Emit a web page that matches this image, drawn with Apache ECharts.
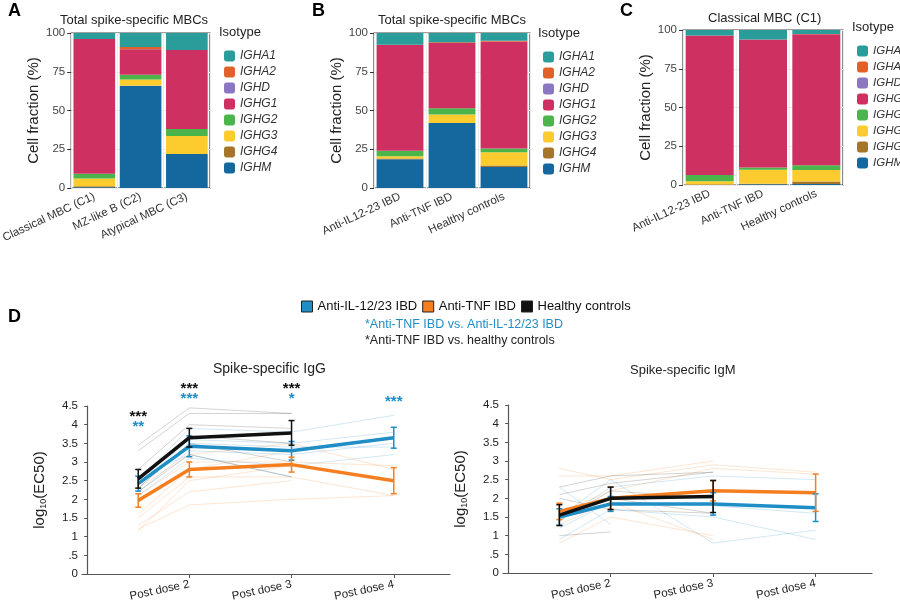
<!DOCTYPE html>
<html>
<head>
<meta charset="utf-8">
<script src="https://cdn.jsdelivr.net/npm/echarts@6/dist/echarts.min.js"></script>
<style>html,body{margin:0;padding:0;background:#fff}#main{width:900px;height:610px}</style>
</head>
<body>
<div id="main"></div>
<script>
// stacked bar panels, bottom -> top
const isotypes = ['IGHM', 'IGHG4', 'IGHG3', 'IGHG2', 'IGHG1', 'IGHD', 'IGHA2', 'IGHA1'];
const isoColors = ['#14689e', '#a5752a', '#fccb2e', '#4bb44a', '#cf3062', '#8b77c1', '#e0622a', '#2a9d9a'];
const catsA = ['Classical MBC (C1)', 'MZ-like B (C2)', 'Atypical MBC (C3)'];
const catsBC = ['Anti-IL12-23 IBD', 'Anti-TNF IBD', 'Healthy controls'];
// per isotype, values per category
const valsA = [[0.5, 66, 22], [0.7, 0, 0], [5, 4, 11.5], [3, 3, 4.5], [87, 16.5, 51], [0, 0, 0], [0, 1.5, 0], [3.8, 9, 11]];
const valsB = [[18.5, 42, 13.5], [0.5, 0, 1], [1.5, 5.5, 8.5], [3.5, 4, 2.5], [68.5, 42, 69], [0, 0, 0], [0, 0.5, 0.5], [7.5, 6, 5]];
const valsC = [[0, 0.5, 0.7], [0.3, 0.3, 1.5], [2.2, 9, 7.5], [4, 1.5, 3], [90, 82.5, 84.5], [0, 0, 0], [0, 0, 0.3], [3.5, 6.2, 2.5]];

// panel D
const groups = ['Anti-IL-12/23 IBD', 'Anti-TNF IBD', 'Healthy controls'];
const groupColors = ['#1f8ec6', '#f57f20', '#111111'];
const doseX = [1, 2, 4, 6];
const doseLabels = ['Post dose 1', 'Post dose 2', 'Post dose 3', 'Post dose 4'];
const iggMean = [[2.42, 3.42, 3.3, 3.65], [1.97, 2.8, 2.93, 2.5], [2.55, 3.65, 3.78, null]];
const iggErr = [[0.2, 0.28, 0.25, 0.28], [0.18, 0.2, 0.2, 0.35], [0.25, 0.25, 0.33, null]];
const igmMean = [[1.5, 1.85, 1.85, 1.75], [1.65, 2.0, 2.2, 2.15], [1.55, 2.0, 2.05, null]];
const igmErr = [[0.22, 0.2, 0.3, 0.37], [0.22, 0.3, 0.27, 0.5], [0.28, 0.3, 0.43, null]];
const iggInd = [
  [[2.5, 3.9, 3.8, 4.25], [2.4, 3.6, 3.5, 3.8], [2.2, 3.3, 3.2, 3.5], [2.1, 3.1, 2.9, 3.2], [2.6, 3.2, 2.6, null], [2.3, 3.5, 3.4, 3.4]],
  [[2.3, 3.2, 3.5, 2.8], [2.1, 3.0, 3.0, 2.9], [1.5, 2.6, 2.6, 2.1], [1.3, 2.2, 2.5, null], [1.2, 1.85, 2.0, 2.1], [1.15, 2.5, 2.9, null], [1.6, 2.8, 3.3, null]],
  [[3.45, 4.45, 4.3, null], [3.3, 4.3, 4.3, null], [2.8, 4.0, 3.9, null], [2.6, 3.7, 3.5, null], [2.3, 3.5, 3.0, null], [2.2, 3.2, 2.6, null]]
];
const igmInd = [
  [[2.3, 1.3, null, null], [1.2, 1.9, 1.8, 1.6], [1.5, 2.5, 0.8, 1.15], [1.4, 2.3, 2.6, 2.5], [0.9, 1.7, 1.5, 0.9]],
  [[2.8, 2.5, 2.9, 2.7], [2.6, 2.6, 3.0, null], [0.8, 1.5, 1.0, null], [1.6, 2.2, 2.8, 2.65], [1.3, 1.9, 0.9, null]],
  [[2.3, 2.6, 2.7, null], [2.1, 2.4, 2.7, null], [1.5, 2.0, 1.6, null], [1.0, 1.1, null, null], [1.4, 2.2, 2.0, null], [2.0, 1.7, 1.6, null]]
];
// significance stars: [x, y, text, colorIndex]
const iggStars = [[1, 4.2, '***', 2], [1, 3.95, '**', 0], [2, 4.95, '***', 2], [2, 4.7, '***', 0], [4, 4.95, '***', 2], [4, 4.68, '*', 0], [6, 4.6, '***', 0]];

const FONT = 'Liberation Sans';
const chart = echarts.init(document.getElementById('main'));

const barGrids = [
  { left: 60, top: 33, width: 150, height: 155 },
  { left: 374, top: 33, width: 156, height: 155 },
  { left: 683, top: 30, width: 160, height: 155 }
];
const grid = barGrids.map(g => Object.assign({ show: true, borderColor: '#444', borderWidth: 1.2, backgroundColor: '#fff' }, g));
grid.push({ left: 82, right: 450, top: 406, bottom: 36 });
grid.push({ left: 503, right: 28, top: 405, bottom: 37 });

const xAxis = [], yAxis = [];
[catsA, catsBC, catsBC].forEach((cats, i) => {
  xAxis.push({
    type: 'category', gridIndex: i, data: cats,
    axisLine: { show: false }, axisTick: { alignWithLabel: true, length: 4, lineStyle: { color: '#333' } },
    axisLabel: { rotate: 25, fontFamily: FONT, fontSize: 11.5, color: '#333', margin: 8 },
    splitLine: { show: true, lineStyle: { color: '#ececec' } }
  });
  yAxis.push({
    type: 'value', gridIndex: i, min: 0, max: 100, interval: 25,
    axisLine: { show: false }, axisTick: { show: true, length: 4, lineStyle: { color: '#333' } },
    axisLabel: { fontFamily: FONT, fontSize: 11.5, color: '#444', margin: 6 },
    splitLine: { lineStyle: { color: '#ececec' } },
    name: 'Cell fraction (%)', nameLocation: 'middle', nameGap: 30,
    nameTextStyle: { fontFamily: FONT, fontSize: 15, color: '#222' }
  });
});
[3, 4].forEach(g => {
  xAxis.push({
    type: 'value', gridIndex: g, min: -0.1, max: 7.1,
    axisLine: { lineStyle: { color: '#555', width: 1.2 } },
    axisTick: { customValues: doseX, length: 4, lineStyle: { color: '#555' } },
    axisLabel: {
      customValues: doseX, rotate: 12, fontFamily: FONT, fontSize: 11.5, color: '#222', margin: 10,
      formatter: v => doseLabels[doseX.indexOf(v)] || ''
    },
    splitLine: { show: false }
  });
  yAxis.push({
    type: 'value', gridIndex: g, min: 0, max: 4.5, interval: 0.5,
    axisLine: { show: true, lineStyle: { color: '#555', width: 1.2 } },
    axisTick: { show: true, length: 3, lineStyle: { color: '#555' } },
    axisLabel: { fontFamily: FONT, fontSize: 11.5, color: '#222', margin: 4, formatter: v => v === 0.5 ? '.5' : String(v) },
    splitLine: { show: false },
    name: '{a|log}{s|10}{a|(EC50)}', nameLocation: 'middle', nameGap: 34,
    nameTextStyle: { rich: { a: { fontFamily: FONT, fontSize: 15, color: '#222' }, s: { fontFamily: FONT, fontSize: 9, color: '#222', verticalAlign: 'bottom', padding: [8, 0, 0, 0] } } }
  });
});

const series = [];
[valsA, valsB, valsC].forEach((vals, gi) => {
  isotypes.forEach((iso, k) => {
    series.push({
      type: 'bar', name: iso, xAxisIndex: gi, yAxisIndex: gi, stack: 'p' + gi,
      data: vals[k], barCategoryGap: '10%', itemStyle: { color: isoColors[k] }
    });
  });
});

function errBar(axis, means, errs, color) {
  const data = [];
  means.forEach((m, i) => { if (m != null) data.push([doseX[i], m - errs[i], m + errs[i]]); });
  return {
    type: 'custom', xAxisIndex: axis, yAxisIndex: axis, z: 4, data: data, silent: true,
    renderItem: (params, api) => {
      const lo = api.coord([api.value(0), api.value(1)]);
      const hi = api.coord([api.value(0), api.value(2)]);
      const st = { stroke: color, lineWidth: 1.5 };
      return { type: 'group', children: [
        { type: 'line', shape: { x1: lo[0], y1: lo[1], x2: hi[0], y2: hi[1] }, style: st },
        { type: 'line', shape: { x1: lo[0] - 3, y1: lo[1], x2: lo[0] + 3, y2: lo[1] }, style: st },
        { type: 'line', shape: { x1: hi[0] - 3, y1: hi[1], x2: hi[0] + 3, y2: hi[1] }, style: st }
      ] };
    }
  };
}
[[3, iggMean, iggErr, iggInd], [4, igmMean, igmErr, igmInd]].forEach(([ax, means, errs, inds]) => {
  groups.forEach((g, gi) => {
    inds[gi].forEach(row => {
      series.push({
        type: 'line', xAxisIndex: ax, yAxisIndex: ax, silent: true, symbol: 'none', z: 1,
        data: row.map((v, i) => [doseX[i], v]).filter(p => p[1] != null),
        lineStyle: { color: groupColors[gi], width: 1, opacity: gi === 2 ? 0.18 : 0.2 }
      });
    });
  });
  groups.forEach((g, gi) => {
    series.push({
      type: 'line', name: g, xAxisIndex: ax, yAxisIndex: ax, symbol: 'none', z: 3 + (gi === 2 ? 1 : 0),
      data: means[gi].map((v, i) => [doseX[i], v]).filter(p => p[1] != null),
      lineStyle: { color: groupColors[gi], width: 3.5 }, itemStyle: { color: groupColors[gi] }
    });
    series.push(errBar(ax, means[gi], errs[gi], groupColors[gi]));
  });
});
series.push({
  type: 'custom', xAxisIndex: 3, yAxisIndex: 3, clip: false, z: 5, data: iggStars, silent: true,
  renderItem: (params, api) => {
    const p = api.coord([api.value(0), api.value(1)]);
    const s = iggStars[params.dataIndex];
    return { type: 'text', x: p[0], y: p[1], style: { text: s[2], fill: s[3] === 0 ? '#1f8ec6' : '#111', font: 'bold 15px ' + FONT, align: 'center', verticalAlign: 'middle' } };
  }
});

const legendBase = {
  data: isotypes.slice().reverse(), orient: 'vertical', itemWidth: 11, itemHeight: 11, itemGap: 4,
  textStyle: { fontFamily: FONT, fontSize: 12, fontStyle: 'italic', color: '#333' }, selectedMode: false
};
const legend = [
  Object.assign({ left: 219, top: 45 }, legendBase),
  Object.assign({ left: 538, top: 46 }, legendBase),
  Object.assign({ left: 852, top: 40 }, legendBase, { textStyle: Object.assign({}, legendBase.textStyle, { fontSize: 11.5 }) }),
  {
    data: groups, left: 296, top: 295, itemWidth: 11, itemHeight: 11, itemGap: 5, selectedMode: false, icon: 'rect',
    itemStyle: { borderColor: '#222', borderWidth: 1 },
    textStyle: { fontFamily: FONT, fontSize: 13, color: '#111' }
  }
];

const txt = (x, y, t, size, extra) => ({ type: 'text', left: x, top: y, style: Object.assign({ text: t, font: size + 'px ' + FONT, fill: '#222' }, extra || {}) });
const graphic = [
  txt(8, 2, 'A', 18, { font: 'bold 18px ' + FONT, fill: '#000' }),
  txt(312, 2, 'B', 18, { font: 'bold 18px ' + FONT, fill: '#000' }),
  txt(620, 2, 'C', 18, { font: 'bold 18px ' + FONT, fill: '#000' }),
  txt(8, 308, 'D', 18, { font: 'bold 18px ' + FONT, fill: '#000' }),
  txt(60, 14, 'Total spike-specific MBCs', 13),
  txt(378, 14, 'Total spike-specific MBCs', 13),
  txt(708, 12, 'Classical MBC (C1)', 13),
  txt(219, 26, 'Isotype', 13),
  txt(538, 27, 'Isotype', 13),
  txt(852, 21, 'Isotype', 13),
  txt(365, 318, '*Anti-TNF IBD vs. Anti-IL-12/23 IBD', 12.5, { fill: '#1f8ec6' }),
  txt(365, 334, '*Anti-TNF IBD vs. healthy controls', 12.5),
  txt(213, 362, 'Spike-specific IgG', 14),
  txt(630, 364, 'Spike-specific IgM', 13)
];

chart.setOption({ animation: false, grid, xAxis, yAxis, series, legend, graphic });
</script>
</body>
</html>
